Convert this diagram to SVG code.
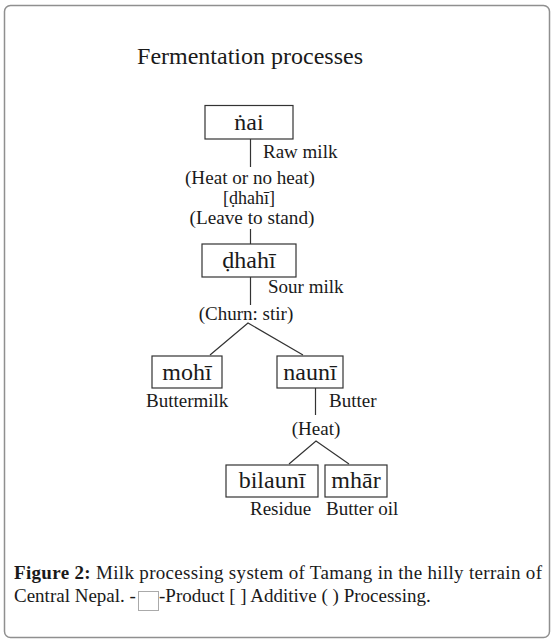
<svg xmlns="http://www.w3.org/2000/svg" width="554" height="642" viewBox="0 0 554 642">
<style>
text{font-family:"Liberation Serif","Times New Roman",serif;fill:#1a1a1a}
.t{font-size:24px}
.b{font-size:24px;text-anchor:middle}
.l{font-size:19px}
.c{font-size:19px;text-anchor:middle}
.s{font-size:18px;text-anchor:middle}
.box{fill:#fff;stroke:#333;stroke-width:1.2}
.ln{stroke:#333;stroke-width:1.2;fill:none}
.cap{font-size:19px}
</style>
<rect x="4.5" y="5.5" width="545" height="632" rx="6" fill="#fff" stroke="#8f8f8f" stroke-width="1.5"/>
<text class="t" x="250" y="64" text-anchor="middle">Fermentation processes</text>
<g id="connectors">
<line class="ln" x1="250.5" y1="139" x2="250.5" y2="167"/>
<line class="ln" x1="250.5" y1="229" x2="250.5" y2="244"/>
<line class="ln" x1="250.5" y1="277" x2="250.5" y2="305"/>
<polyline class="ln" points="210,355 248,323 303,355"/>
<line class="ln" x1="315.5" y1="388" x2="315.5" y2="415"/>
<polyline class="ln" points="289,464 316,441 349,464"/>
</g>
<g id="nai"><rect class="box" x="205" y="105.5" width="88" height="33.5"/><text class="b" x="249" y="130">ṅai</text></g>
<g id="raw-milk"><text class="l" x="263" y="158">Raw milk</text></g>
<g id="process1">
<text class="s" x="250" y="184" textLength="130" lengthAdjust="spacingAndGlyphs">(Heat or no heat)</text>
<text class="s" x="249" y="204">[ḍhahī]</text>
<text class="s" x="252" y="224" textLength="125" lengthAdjust="spacingAndGlyphs">(Leave to stand)</text>
</g>
<g id="dhahi"><rect class="box" x="202" y="244" width="94" height="33"/><text class="b" x="249" y="268">ḍhahī</text></g>
<g id="sour-milk"><text class="l" x="268" y="293">Sour milk</text></g>
<g id="churn"><text class="c" x="246" y="320">(Churn: stir)</text></g>
<g id="mohi"><rect class="box" x="152" y="356" width="70" height="32"/><text class="b" x="187" y="380">mohī</text></g>
<g id="nauni"><rect class="box" x="277" y="356" width="66" height="32"/><text class="b" x="310" y="380">naunī</text></g>
<g id="buttermilk"><text class="l" x="146" y="407">Buttermilk</text></g>
<g id="butter"><text class="l" x="329" y="407">Butter</text></g>
<g id="heat"><text class="c" x="316" y="435">(Heat)</text></g>
<g id="bilauni"><rect class="box" x="226" y="465" width="92" height="32"/><text class="b" x="272" y="488">bilaunī</text></g>
<g id="mhar"><rect class="box" x="325" y="465" width="62" height="32"/><text class="b" x="356" y="488">mhār</text></g>
<g id="residue"><text class="l" x="250" y="515">Residue</text></g>
<g id="butter-oil"><text class="l" x="326" y="515">Butter oil</text></g>
<g id="caption">
<text class="cap" x="14" y="579" textLength="528" lengthAdjust="spacing"><tspan font-weight="bold">Figure 2:</tspan> Milk processing system of Tamang in the hilly terrain of</text>
<text class="cap" x="14" y="602">Central Nepal. -</text>
<rect x="138.5" y="591.5" width="20" height="19" fill="#fff" stroke="#aaa" stroke-width="1"/>
<text class="cap" x="159" y="602">-Product [ ] Additive ( ) Processing.</text>
</g>
</svg>
